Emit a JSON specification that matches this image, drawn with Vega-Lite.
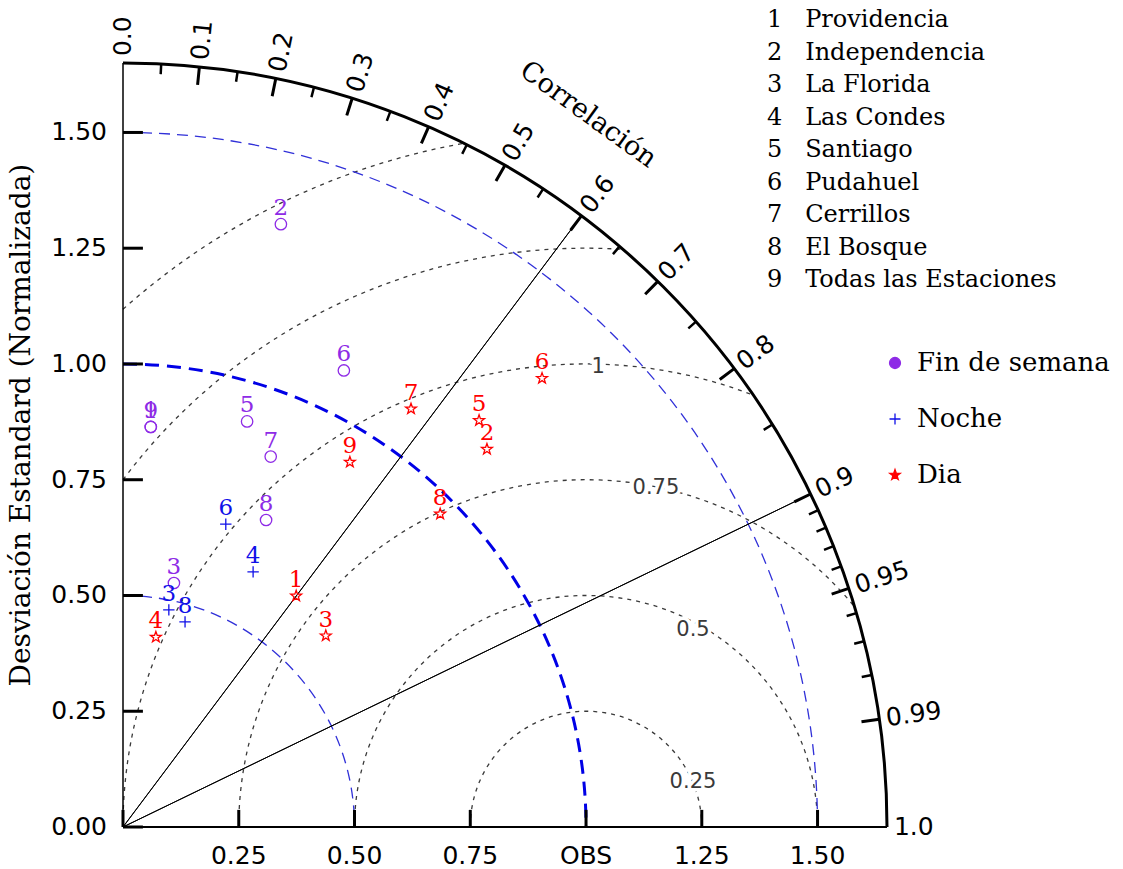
{
  "$schema": "https://vega.github.io/schema/vega-lite/v6.json",
  "width": 764,
  "height": 764,
  "autosize": {"type": "none"},
  "padding": {"left": 123, "top": 63, "right": 236, "bottom": 42},
  "background": "white",
  "config": {"view": {"stroke": null}},
  "datasets": {
    "estaciones": [
      {"tipo": "Fin de semana", "n": 1, "estacion": "Providencia", "x": 0.060, "y": 0.864},
      {"tipo": "Fin de semana", "n": 9, "estacion": "Todas las Estaciones", "x": 0.060, "y": 0.864},
      {"tipo": "Fin de semana", "n": 2, "estacion": "Independencia", "x": 0.341, "y": 1.302},
      {"tipo": "Fin de semana", "n": 3, "estacion": "La Florida", "x": 0.110, "y": 0.527},
      {"tipo": "Fin de semana", "n": 5, "estacion": "Santiago", "x": 0.268, "y": 0.876},
      {"tipo": "Fin de semana", "n": 6, "estacion": "Pudahuel", "x": 0.477, "y": 0.986},
      {"tipo": "Fin de semana", "n": 7, "estacion": "Cerrillos", "x": 0.319, "y": 0.800},
      {"tipo": "Fin de semana", "n": 8, "estacion": "El Bosque", "x": 0.309, "y": 0.663},
      {"tipo": "Noche", "n": 3, "estacion": "La Florida", "x": 0.099, "y": 0.469},
      {"tipo": "Noche", "n": 4, "estacion": "Las Condes", "x": 0.281, "y": 0.551},
      {"tipo": "Noche", "n": 6, "estacion": "Pudahuel", "x": 0.222, "y": 0.654},
      {"tipo": "Noche", "n": 8, "estacion": "El Bosque", "x": 0.134, "y": 0.443},
      {"tipo": "Dia", "n": 1, "estacion": "Providencia", "x": 0.374, "y": 0.499},
      {"tipo": "Dia", "n": 2, "estacion": "Independencia", "x": 0.786, "y": 0.816},
      {"tipo": "Dia", "n": 3, "estacion": "La Florida", "x": 0.438, "y": 0.413},
      {"tipo": "Dia", "n": 4, "estacion": "Las Condes", "x": 0.071, "y": 0.410},
      {"tipo": "Dia", "n": 5, "estacion": "Santiago", "x": 0.769, "y": 0.878},
      {"tipo": "Dia", "n": 6, "estacion": "Pudahuel", "x": 0.905, "y": 0.969},
      {"tipo": "Dia", "n": 7, "estacion": "Cerrillos", "x": 0.622, "y": 0.903},
      {"tipo": "Dia", "n": 8, "estacion": "El Bosque", "x": 0.685, "y": 0.676},
      {"tipo": "Dia", "n": 9, "estacion": "Todas las Estaciones", "x": 0.490, "y": 0.788}
    ],
    "marcas_mayores": [
      {"c": 0.1, "ang": 5.739}, {"c": 0.2, "ang": 11.537}, {"c": 0.3, "ang": 17.458},
      {"c": 0.4, "ang": 23.578}, {"c": 0.5, "ang": 30.0}, {"c": 0.6, "ang": 36.870},
      {"c": 0.7, "ang": 44.427}, {"c": 0.8, "ang": 53.130}, {"c": 0.9, "ang": 64.158},
      {"c": 0.95, "ang": 71.805}, {"c": 0.99, "ang": 81.890}
    ],
    "marcas_menores": [
      {"c": 0.05, "ang": 2.866}, {"c": 0.15, "ang": 8.627}, {"c": 0.25, "ang": 14.478},
      {"c": 0.35, "ang": 20.487}, {"c": 0.45, "ang": 26.744}, {"c": 0.55, "ang": 33.367},
      {"c": 0.65, "ang": 40.542}, {"c": 0.75, "ang": 48.590}, {"c": 0.85, "ang": 58.212},
      {"c": 0.91, "ang": 65.505}, {"c": 0.92, "ang": 66.926}, {"c": 0.93, "ang": 68.434},
      {"c": 0.94, "ang": 70.052}, {"c": 0.96, "ang": 73.740}, {"c": 0.97, "ang": 75.930},
      {"c": 0.98, "ang": 78.522}
    ],
    "etiquetas_corr": [
      {"etiqueta": "0.0", "ang": 0}, {"etiqueta": "0.1", "ang": 5.739},
      {"etiqueta": "0.2", "ang": 11.537}, {"etiqueta": "0.3", "ang": 17.458},
      {"etiqueta": "0.4", "ang": 23.578}, {"etiqueta": "0.5", "ang": 30.0},
      {"etiqueta": "0.6", "ang": 36.870}, {"etiqueta": "0.7", "ang": 44.427},
      {"etiqueta": "0.8", "ang": 53.130}, {"etiqueta": "0.9", "ang": 64.158},
      {"etiqueta": "0.95", "ang": 71.805}, {"etiqueta": "0.99", "ang": 81.890},
      {"etiqueta": "1.0", "ang": 90}
    ],
    "etiquetas_rms": [
      {"lbl": "0.25", "x": 1.231, "y": 0.097},
      {"lbl": "0.5", "x": 1.231, "y": 0.425},
      {"lbl": "0.75", "x": 1.151, "y": 0.732},
      {"lbl": "1", "x": 1.026, "y": 0.994}
    ],
    "eje_x": [
      {"v": 0, "etiqueta": ""}, {"v": 0.25, "etiqueta": "0.25"}, {"v": 0.5, "etiqueta": "0.50"},
      {"v": 0.75, "etiqueta": "0.75"}, {"v": 1.0, "etiqueta": "OBS"}, {"v": 1.25, "etiqueta": "1.25"},
      {"v": 1.5, "etiqueta": "1.50"}
    ],
    "eje_y": [
      {"v": 0, "etiqueta": "0.00"}, {"v": 0.25, "etiqueta": "0.25"}, {"v": 0.5, "etiqueta": "0.50"},
      {"v": 0.75, "etiqueta": "0.75"}, {"v": 1.0, "etiqueta": "1.00"}, {"v": 1.25, "etiqueta": "1.25"},
      {"v": 1.5, "etiqueta": "1.50"}
    ]
  },
  "layer": [
    {
      "data": {"values": [{"rms": 0.25}, {"rms": 0.5}]},
      "mark": {"type": "point", "shape": "M -1 0 A 1 1 0 0 1 0 -1 A 1 1 0 0 1 1 0", "filled": false, "color": "#3a3a3a", "strokeWidth": 1.3, "strokeDash": [4, 5], "opacity": 1},
      "encoding": {
        "x": {"datum": 1, "type": "quantitative", "scale": {"domain": [0, 1.65], "nice": false, "zero": true}, "axis": null},
        "y": {"datum": 0, "type": "quantitative", "scale": {"domain": [0, 1.65], "nice": false, "zero": true}, "axis": null},
        "size": {"field": "rms", "type": "quantitative", "scale": {"type": "pow", "exponent": 2, "domain": [0, 1.65], "range": [0, 2334784], "zero": true}, "legend": null}
      }
    },
    {
      "data": {"values": [{"rms": 0.75}]},
      "mark": {"type": "point", "shape": "M -1 0 A 1 1 0 0 1 0.7733 -0.634", "filled": false, "color": "#3a3a3a", "strokeWidth": 1.3, "strokeDash": [4, 5], "opacity": 1},
      "encoding": {
        "x": {"datum": 1, "type": "quantitative", "scale": {"domain": [0, 1.65], "nice": false, "zero": true}, "axis": null},
        "y": {"datum": 0, "type": "quantitative", "scale": {"domain": [0, 1.65], "nice": false, "zero": true}, "axis": null},
        "size": {"field": "rms", "type": "quantitative", "scale": {"type": "pow", "exponent": 2, "domain": [0, 1.65], "range": [0, 2334784], "zero": true}, "legend": null}
      }
    },
    {
      "data": {"values": [{"rms": 1.0}]},
      "mark": {"type": "point", "shape": "M -1 0 A 1 1 0 0 1 0.3613 -0.9325", "filled": false, "color": "#3a3a3a", "strokeWidth": 1.3, "strokeDash": [4, 5], "opacity": 1},
      "encoding": {
        "x": {"datum": 1, "type": "quantitative", "scale": {"domain": [0, 1.65], "nice": false, "zero": true}, "axis": null},
        "y": {"datum": 0, "type": "quantitative", "scale": {"domain": [0, 1.65], "nice": false, "zero": true}, "axis": null},
        "size": {"field": "rms", "type": "quantitative", "scale": {"type": "pow", "exponent": 2, "domain": [0, 1.65], "range": [0, 2334784], "zero": true}, "legend": null}
      }
    },
    {
      "data": {"values": [{"rms": 1.25}]},
      "mark": {"type": "point", "shape": "M -0.8 -0.6 A 1 1 0 0 1 0.064 -0.998", "filled": false, "color": "#3a3a3a", "strokeWidth": 1.3, "strokeDash": [4, 5], "opacity": 1},
      "encoding": {
        "x": {"datum": 1, "type": "quantitative", "scale": {"domain": [0, 1.65], "nice": false, "zero": true}, "axis": null},
        "y": {"datum": 0, "type": "quantitative", "scale": {"domain": [0, 1.65], "nice": false, "zero": true}, "axis": null},
        "size": {"field": "rms", "type": "quantitative", "scale": {"type": "pow", "exponent": 2, "domain": [0, 1.65], "range": [0, 2334784], "zero": true}, "legend": null}
      }
    },
    {
      "data": {"values": [{"rms": 1.5}]},
      "mark": {"type": "point", "shape": "M -0.6667 -0.7454 A 1 1 0 0 1 -0.1758 -0.9844", "filled": false, "color": "#3a3a3a", "strokeWidth": 1.3, "strokeDash": [4, 5], "opacity": 1},
      "encoding": {
        "x": {"datum": 1, "type": "quantitative", "scale": {"domain": [0, 1.65], "nice": false, "zero": true}, "axis": null},
        "y": {"datum": 0, "type": "quantitative", "scale": {"domain": [0, 1.65], "nice": false, "zero": true}, "axis": null},
        "size": {"field": "rms", "type": "quantitative", "scale": {"type": "pow", "exponent": 2, "domain": [0, 1.65], "range": [0, 2334784], "zero": true}, "legend": null}
      }
    },
    {
      "data": {"values": [{"de": 0.5}, {"de": 1.5}]},
      "mark": {"type": "point", "shape": "M 0 -1 A 1 1 0 0 1 1 0", "filled": false, "color": "#3030d8", "strokeWidth": 1.3, "strokeDash": [11, 7], "opacity": 1},
      "encoding": {
        "x": {"datum": 0, "type": "quantitative", "scale": {"domain": [0, 1.65], "nice": false, "zero": true}, "axis": null},
        "y": {"datum": 0, "type": "quantitative", "scale": {"domain": [0, 1.65], "nice": false, "zero": true}, "axis": null},
        "size": {"field": "de", "type": "quantitative", "scale": {"type": "pow", "exponent": 2, "domain": [0, 1.65], "range": [0, 2334784], "zero": true}, "legend": null}
      }
    },
    {
      "data": {"values": [{"de": 1.0}]},
      "mark": {"type": "point", "shape": "M 0 -1 A 1 1 0 0 1 1 0", "filled": false, "color": "#0000e6", "strokeWidth": 3, "strokeDash": [14, 8], "opacity": 1},
      "encoding": {
        "x": {"datum": 0, "type": "quantitative", "scale": {"domain": [0, 1.65], "nice": false, "zero": true}, "axis": null},
        "y": {"datum": 0, "type": "quantitative", "scale": {"domain": [0, 1.65], "nice": false, "zero": true}, "axis": null},
        "size": {"field": "de", "type": "quantitative", "scale": {"type": "pow", "exponent": 2, "domain": [0, 1.65], "range": [0, 2334784], "zero": true}, "legend": null}
      }
    },
    {
      "data": {"values": [{"c": 0.6, "ang": 36.870}, {"c": 0.9, "ang": 64.158}]},
      "mark": {"type": "arc", "filled": false, "color": "#000000", "strokeWidth": 1, "strokeJoin": "bevel"},
      "encoding": {
        "x": {"datum": 0, "type": "quantitative", "scale": {"domain": [0, 1.65], "nice": false, "zero": true}, "axis": null},
        "y": {"datum": 0, "type": "quantitative", "scale": {"domain": [0, 1.65], "nice": false, "zero": true}, "axis": null},
        "theta": {"field": "ang", "type": "quantitative", "stack": null, "scale": {"type": "linear", "domain": [0, 360], "range": [0, 6.283185307179586]}},
        "theta2": {"field": "ang"},
        "radius": {"datum": 1.65, "type": "quantitative", "scale": {"type": "linear", "domain": [0, 1.65], "range": [0, 764], "zero": true}},
        "radius2": {"datum": 0}
      }
    },
    {
      "data": {"values": [{}]},
      "mark": {"type": "arc", "filled": false, "color": "#000000", "strokeWidth": 3, "strokeJoin": "bevel"},
      "encoding": {
        "x": {"datum": 0, "type": "quantitative", "scale": {"domain": [0, 1.65], "nice": false, "zero": true}, "axis": null},
        "y": {"datum": 0, "type": "quantitative", "scale": {"domain": [0, 1.65], "nice": false, "zero": true}, "axis": null},
        "theta": {"datum": 0, "type": "quantitative", "scale": {"type": "linear", "domain": [0, 360], "range": [0, 6.283185307179586]}},
        "theta2": {"datum": 90},
        "radius": {"datum": 1.65, "type": "quantitative", "scale": {"type": "linear", "domain": [0, 1.65], "range": [0, 764], "zero": true}},
        "radius2": {"datum": 1.65}
      }
    },
    {
      "data": {"name": "marcas_mayores"},
      "mark": {"type": "arc", "filled": false, "color": "#000000", "strokeWidth": 3, "strokeJoin": "bevel"},
      "encoding": {
        "x": {"datum": 0, "type": "quantitative", "scale": {"domain": [0, 1.65], "nice": false, "zero": true}, "axis": null},
        "y": {"datum": 0, "type": "quantitative", "scale": {"domain": [0, 1.65], "nice": false, "zero": true}, "axis": null},
        "theta": {"field": "ang", "type": "quantitative", "stack": null, "scale": {"type": "linear", "domain": [0, 360], "range": [0, 6.283185307179586]}},
        "theta2": {"field": "ang"},
        "radius": {"datum": 1.65, "type": "quantitative", "scale": {"type": "linear", "domain": [0, 1.65], "range": [0, 764], "zero": true}},
        "radius2": {"datum": 1.611}
      }
    },
    {
      "data": {"name": "marcas_menores"},
      "mark": {"type": "arc", "filled": false, "color": "#000000", "strokeWidth": 2.5, "strokeJoin": "bevel"},
      "encoding": {
        "x": {"datum": 0, "type": "quantitative", "scale": {"domain": [0, 1.65], "nice": false, "zero": true}, "axis": null},
        "y": {"datum": 0, "type": "quantitative", "scale": {"domain": [0, 1.65], "nice": false, "zero": true}, "axis": null},
        "theta": {"field": "ang", "type": "quantitative", "stack": null, "scale": {"type": "linear", "domain": [0, 360], "range": [0, 6.283185307179586]}},
        "theta2": {"field": "ang"},
        "radius": {"datum": 1.65, "type": "quantitative", "scale": {"type": "linear", "domain": [0, 1.65], "range": [0, 764], "zero": true}},
        "radius2": {"datum": 1.628}
      }
    },
    {
      "data": {"values": [{}]},
      "mark": {"type": "rule", "color": "#000000", "strokeWidth": 2},
      "encoding": {
        "x": {"datum": 0, "type": "quantitative", "scale": {"domain": [0, 1.65], "nice": false, "zero": true}, "axis": null},
        "x2": {"datum": 1.65},
        "y": {"datum": 0, "type": "quantitative", "scale": {"domain": [0, 1.65], "nice": false, "zero": true}, "axis": null}
      }
    },
    {
      "data": {"values": [{}]},
      "mark": {"type": "rule", "color": "#000000", "strokeWidth": 1.5},
      "encoding": {
        "x": {"datum": 0, "type": "quantitative", "scale": {"domain": [0, 1.65], "nice": false, "zero": true}, "axis": null},
        "y": {"datum": 0, "type": "quantitative", "scale": {"domain": [0, 1.65], "nice": false, "zero": true}, "axis": null},
        "y2": {"datum": 1.65}
      }
    },
    {
      "data": {"name": "eje_x"},
      "mark": {"type": "rule", "color": "#000000", "strokeWidth": 3},
      "encoding": {
        "x": {"field": "v", "type": "quantitative", "scale": {"domain": [0, 1.65], "nice": false, "zero": true}, "axis": null},
        "y": {"datum": 0, "type": "quantitative", "scale": {"domain": [0, 1.65], "nice": false, "zero": true}, "axis": null},
        "y2": {"datum": 0.037}
      }
    },
    {
      "data": {"name": "eje_y"},
      "mark": {"type": "rule", "color": "#000000", "strokeWidth": 3},
      "encoding": {
        "x": {"datum": 0, "type": "quantitative", "scale": {"domain": [0, 1.65], "nice": false, "zero": true}, "axis": null},
        "x2": {"datum": 0.043},
        "y": {"field": "v", "type": "quantitative", "scale": {"domain": [0, 1.65], "nice": false, "zero": true}, "axis": null}
      }
    },
    {
      "data": {"name": "eje_x"},
      "mark": {"type": "text", "align": "center", "baseline": "middle", "dy": 29, "font": "DejaVu Sans", "fontSize": 25, "color": "#000000"},
      "encoding": {
        "x": {"field": "v", "type": "quantitative", "scale": {"domain": [0, 1.65], "nice": false, "zero": true}, "axis": null},
        "y": {"datum": 0, "type": "quantitative", "scale": {"domain": [0, 1.65], "nice": false, "zero": true}, "axis": null},
        "text": {"field": "etiqueta"}
      }
    },
    {
      "data": {"name": "eje_y"},
      "mark": {"type": "text", "align": "right", "baseline": "middle", "dx": -16, "font": "DejaVu Sans", "fontSize": 25, "color": "#000000"},
      "encoding": {
        "x": {"datum": 0, "type": "quantitative", "scale": {"domain": [0, 1.65], "nice": false, "zero": true}, "axis": null},
        "y": {"field": "v", "type": "quantitative", "scale": {"domain": [0, 1.65], "nice": false, "zero": true}, "axis": null},
        "text": {"field": "etiqueta"}
      }
    },
    {
      "data": {"values": [{}]},
      "mark": {"type": "text", "text": "Desviación Estandard (Normalizada)", "align": "center", "baseline": "middle", "angle": 270, "dy": -101, "font": "DejaVu Serif", "fontSize": 28, "color": "#000000"},
      "encoding": {
        "x": {"datum": 0, "type": "quantitative", "scale": {"domain": [0, 1.65], "nice": false, "zero": true}, "axis": null},
        "y": {"datum": 0.868, "type": "quantitative", "scale": {"domain": [0, 1.65], "nice": false, "zero": true}, "axis": null}
      }
    },
    {
      "data": {"name": "etiquetas_corr"},
      "mark": {"type": "text", "align": "left", "baseline": "middle", "font": "DejaVu Sans", "fontSize": 25, "color": "#000000"},
      "encoding": {
        "x": {"datum": 0, "type": "quantitative", "scale": {"domain": [0, 1.65], "nice": false, "zero": true}, "axis": null},
        "y": {"datum": 0, "type": "quantitative", "scale": {"domain": [0, 1.65], "nice": false, "zero": true}, "axis": null},
        "theta": {"field": "ang", "type": "quantitative", "stack": null, "scale": {"type": "linear", "domain": [0, 360], "range": [0, 6.283185307179586]}},
        "radius": {"datum": 1.665, "type": "quantitative", "scale": {"type": "linear", "domain": [0, 1.65], "range": [0, 764], "zero": true}},
        "angle": {"field": "ang", "type": "quantitative", "scale": {"domain": [0, 90], "range": [270, 360]}, "legend": null},
        "text": {"field": "etiqueta"}
      }
    },
    {
      "data": {"values": [{}]},
      "mark": {"type": "text", "text": "Correlación", "align": "center", "baseline": "middle", "font": "DejaVu Serif", "fontSize": 27, "angle": 36, "color": "#000000"},
      "encoding": {
        "x": {"datum": 0, "type": "quantitative", "scale": {"domain": [0, 1.65], "nice": false, "zero": true}, "axis": null},
        "y": {"datum": 0, "type": "quantitative", "scale": {"domain": [0, 1.65], "nice": false, "zero": true}, "axis": null},
        "theta": {"datum": 33.15, "type": "quantitative", "scale": {"type": "linear", "domain": [0, 360], "range": [0, 6.283185307179586]}},
        "radius": {"datum": 1.837, "type": "quantitative", "scale": {"type": "linear", "domain": [0, 1.65], "range": [0, 764], "zero": true}}
      }
    },
    {
      "data": {"name": "etiquetas_rms"},
      "mark": {"type": "text", "align": "center", "baseline": "middle", "font": "DejaVu Sans", "fontSize": 21, "stroke": "white", "strokeWidth": 7, "fill": "white"},
      "encoding": {
        "x": {"field": "x", "type": "quantitative", "scale": {"domain": [0, 1.65], "nice": false, "zero": true}, "axis": null},
        "y": {"field": "y", "type": "quantitative", "scale": {"domain": [0, 1.65], "nice": false, "zero": true}, "axis": null},
        "text": {"field": "lbl"}
      }
    },
    {
      "data": {"name": "etiquetas_rms"},
      "mark": {"type": "text", "align": "center", "baseline": "middle", "font": "DejaVu Sans", "fontSize": 21, "color": "#3a3a3a"},
      "encoding": {
        "x": {"field": "x", "type": "quantitative", "scale": {"domain": [0, 1.65], "nice": false, "zero": true}, "axis": null},
        "y": {"field": "y", "type": "quantitative", "scale": {"domain": [0, 1.65], "nice": false, "zero": true}, "axis": null},
        "text": {"field": "lbl"}
      }
    },
    {
      "data": {"name": "estaciones"},
      "mark": {"type": "point", "filled": false, "fillOpacity": 0, "size": 130, "strokeWidth": 1.3, "opacity": 1},
      "encoding": {
        "x": {"field": "x", "type": "quantitative", "scale": {"domain": [0, 1.65], "nice": false, "zero": true}, "axis": null},
        "y": {"field": "y", "type": "quantitative", "scale": {"domain": [0, 1.65], "nice": false, "zero": true}, "axis": null},
        "stroke": {
          "field": "tipo", "type": "nominal",
          "scale": {"domain": ["Fin de semana", "Noche", "Dia"], "range": ["#8e2be6", "#1010e8", "#ff0000"]},
          "legend": {
            "title": null, "orient": "none", "legendX": 759, "legendY": 287,
            "padding": 0, "rowPadding": 30, "labelOffset": 9,
            "symbolSize": 120, "symbolStrokeWidth": 1.3, "symbolFillColor": "transparent",
            "labelFont": "DejaVu Serif", "labelFontSize": 26, "labelColor": "#000000", "labelLimit": 0,
            "encode": {"symbols": {"fill": {"value": "transparent"}, "fillOpacity": {"value": 0}}}
          }
        },
        "shape": {
          "field": "tipo", "type": "nominal",
          "scale": {"domain": ["Fin de semana", "Noche", "Dia"], "range": ["circle", "M -1 0 L 1 0 M 0 -1 L 0 1", "M 0 -1 L 0.2351 -0.3236 L 0.9511 -0.309 L 0.3804 0.1236 L 0.5878 0.809 L 0 0.4 L -0.5878 0.809 L -0.3804 0.1236 L -0.9511 -0.309 L -0.2351 -0.3236 Z"]},
          "legend": {
            "title": null, "orient": "none", "legendX": 759, "legendY": 287,
            "padding": 0, "rowPadding": 30, "labelOffset": 9,
            "symbolSize": 120, "symbolStrokeWidth": 1.3, "symbolFillColor": "transparent",
            "labelFont": "DejaVu Serif", "labelFontSize": 26, "labelColor": "#000000", "labelLimit": 0,
            "encode": {"symbols": {"fill": {"value": "transparent"}, "fillOpacity": {"value": 0}}}
          }
        }
      }
    },
    {
      "data": {"name": "estaciones"},
      "mark": {"type": "text", "dy": -16, "align": "center", "baseline": "middle", "font": "DejaVu Serif", "fontSize": 23},
      "encoding": {
        "x": {"field": "x", "type": "quantitative", "scale": {"domain": [0, 1.65], "nice": false, "zero": true}, "axis": null},
        "y": {"field": "y", "type": "quantitative", "scale": {"domain": [0, 1.65], "nice": false, "zero": true}, "axis": null},
        "text": {"field": "n"},
        "color": {
          "field": "tipo", "type": "nominal",
          "scale": {"domain": ["Fin de semana", "Noche", "Dia"], "range": ["#8e2be6", "#1010e8", "#ff0000"]},
          "legend": null
        },
        "opacity": {
          "field": "estacion", "type": "ordinal",
          "scale": {
            "type": "point",
            "domain": ["Providencia", "Independencia", "La Florida", "Las Condes", "Santiago", "Pudahuel", "Cerrillos", "El Bosque", "Todas las Estaciones"],
            "range": [1, 1]
          },
          "legend": {
            "title": null, "orient": "none", "legendX": 620, "legendY": -55,
            "padding": 0, "rowPadding": 8.5, "labelOffset": 0,
            "symbolSize": 0, "symbolOpacity": 0, "symbolStrokeWidth": 0,
            "labelExpr": "(datum.index + 1) + '\u00a0\u00a0\u00a0' + datum.value",
            "labelFont": "DejaVu Serif", "labelFontSize": 24, "labelColor": "#000000", "labelLimit": 0
          }
        }
      }
    }
  ]
}
